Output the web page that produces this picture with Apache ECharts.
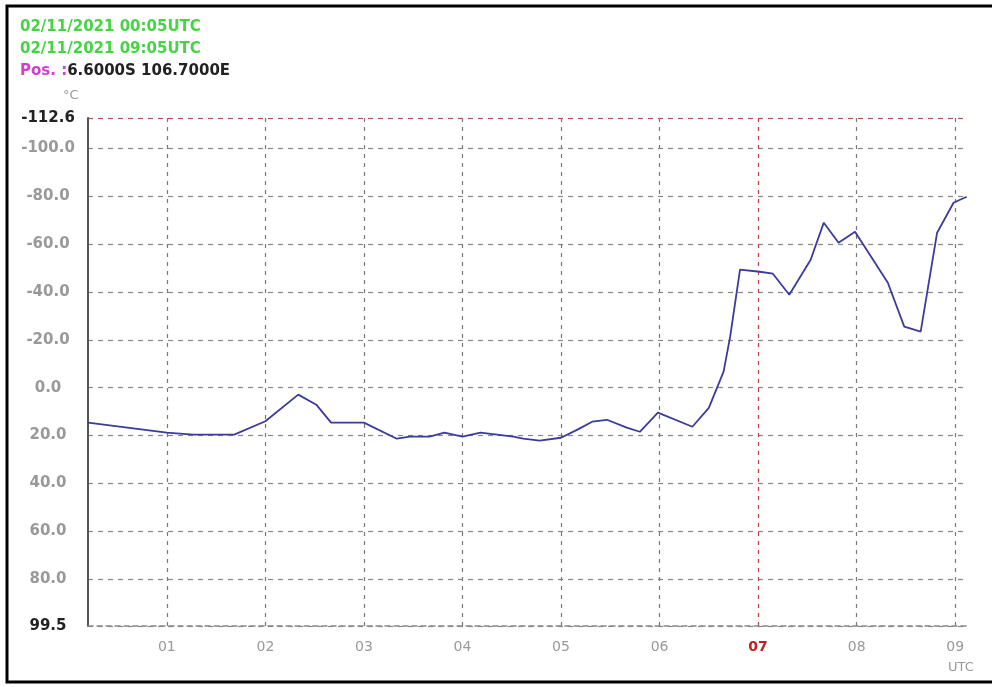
<!DOCTYPE html>
<html>
<head>
<meta charset="utf-8">
<script src="https://cdn.jsdelivr.net/npm/echarts@6/dist/echarts.min.js"></script>
<style>
    html, body { margin: 0; padding: 0; background: #fff; }
    #chart { width: 992px; height: 687px; }
</style>
</head>
<body>
<div id="chart"></div>
<script>
// sample times (UTC) and temperature readings
const times = ['00:12', '01:00', '01:16', '01:41', '02:00', '02:20', '02:31', '02:40', '03:00', '03:20',
    '03:28', '03:40', '03:49', '04:00', '04:11', '04:21', '04:31', '04:37', '04:47', '05:00',
    '05:10', '05:19', '05:28', '05:40', '05:48', '05:59', '06:20', '06:30', '06:39', '06:43',
    '06:49', '07:01', '07:09', '07:19', '07:32', '07:40', '07:49', '07:59', '08:10', '08:19',
    '08:29', '08:39', '08:49', '08:59', '09:07']
const temps = [14.6, 18.8, 19.6, 19.6, 14.0, 2.9, 7.1, 14.6, 14.6, 21.3,
    20.4, 20.4, 18.8, 20.4, 18.8, 19.6, 20.4, 21.3, 22.1, 20.9,
    17.5, 14.2, 13.4, 16.7, 18.4, 10.4, 16.3, 8.4, -6.7, -21.3,
    -49.3, -48.4, -47.6, -38.8, -53.4, -68.9, -60.5, -65.1, -53.4, -43.8,
    -25.5, -23.4, -64.7, -77.2, -79.7]
const yTicks = [-112.6, -100, -80, -60, -40, -20, 0, 20, 40, 60, 80, 99.5]
const hourTicks = [1, 2, 3, 4, 5, 6, 7, 8, 9]
const markHour = 7

const yMin = yTicks[0]
const yMax = yTicks[yTicks.length - 1]

function toHours(t) {
    const p = t.split(':')
    return +p[0] + p[1] / 60
}

const chart = echarts.init(document.getElementById('chart'))
const font = 'DejaVu Sans'

chart.setOption({
    animation: false,
    textStyle: { fontFamily: font },
    grid: { left: 88, right: 25, top: 118, bottom: 61 },
    graphic: [
        {
            type: 'rect',
            shape: { x: 7, y: 6, width: 1000, height: 676 },
            style: { fill: 'none', stroke: '#000', lineWidth: 3 },
        },
        {
            type: 'text', left: 20, top: 20,
            style: { text: '02/11/2021 00:05UTC', fill: '#44d444', font: 'bold 15px ' + font },
        },
        {
            type: 'text', left: 20, top: 42,
            style: { text: '02/11/2021 09:05UTC', fill: '#44d444', font: 'bold 15px ' + font },
        },
        {
            type: 'text', left: 20, top: 64,
            style: {
                text: '{m|Pos. :}{k|6.6000S 106.7000E}',
                rich: {
                    m: { fill: '#d040d0', font: 'bold 15px ' + font },
                    k: { fill: '#222', font: 'bold 15px ' + font },
                },
            },
        },
        {
            type: 'text', left: 63, top: 89,
            style: { text: '°C', fill: '#999', font: '13px ' + font },
        },
        {
            type: 'text', left: 948, top: 661,
            style: { text: 'UTC', fill: '#999', font: '13px ' + font },
        },
    ],
    xAxis: {
        type: 'value',
        min: 0.2,
        max: 9.12,
        axisLine: { show: true, onZero: false, lineStyle: { color: '#888', type: [5, 4], width: 1.5 } },
        axisTick: { show: false, customValues: hourTicks },
        axisLabel: {
            customValues: hourTicks,
            margin: 14,
            formatter: v => (v === markHour ? '{r|' : '{g|') + String(v).padStart(2, '0') + '}',
            rich: {
                g: { color: '#999', fontSize: 14, fontFamily: font },
                r: { color: '#c02020', fontSize: 14, fontWeight: 'bold', fontFamily: font },
            },
        },
        splitLine: {
            show: true,
            lineStyle: {
                color: hourTicks.map(h => (h === markHour ? '#c04040' : '#777')),
                type: [4, 5],
                width: 1.2,
            },
        },
    },
    yAxis: {
        type: 'value',
        inverse: true,
        min: yMin,
        max: yMax,
        axisLine: { show: true, lineStyle: { color: '#555', width: 2 } },
        axisTick: { show: false, customValues: yTicks },
        axisLabel: {
            customValues: yTicks,
            align: 'center',
            margin: 40,
            formatter: v => ((v === yMin || v === yMax) ? '{b|' : '{g|') + v.toFixed(1) + '}',
            rich: {
                b: { color: '#222', fontSize: 15, fontWeight: 'bold', fontFamily: font },
                g: { color: '#999', fontSize: 15, fontWeight: 'bold', fontFamily: font },
            },
        },
        splitLine: {
            show: true,
            lineStyle: {
                color: yTicks.map(v => (v === yMin ? '#b05050' : '#888')),
                type: [5, 5],
                width: 1.2,
            },
        },
    },
    series: [
        {
            type: 'line',
            data: times.map((t, i) => [toHours(t), temps[i]]),
            showSymbol: false,
            lineStyle: { color: '#3b3b9e', width: 1.8 },
        },
    ],
})
</script>
</body>
</html>
